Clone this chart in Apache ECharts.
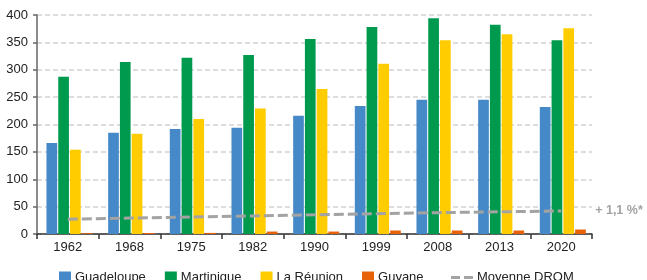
<!DOCTYPE html>
<html>
<head>
<meta charset="utf-8">
<script src="https://cdn.jsdelivr.net/npm/echarts@6/dist/echarts.min.js"></script>
<style>
html,body{margin:0;padding:0;background:#fff;}
#c{width:647px;height:280px;}
</style>
</head>
<body>
<div id="c"></div>
<script>
const years = ['1962','1968','1975','1982','1990','1999','2008','2013','2020'];
const guadeloupe = [166, 185, 192, 194, 216, 234, 245, 245, 232];
const martinique = [287, 314, 322, 327, 356, 378, 394, 382, 354];
const reunion = [154, 183, 210, 229, 265, 311, 354, 365, 376];
const guyane = [1.5, 1.8, 2, 4.5, 4.5, 6.4, 6.4, 6.4, 8.2];
const moyenne = [27, 29, 31, 33, 35, 37, 39, 40.5, 42];
const yTicks = {min: 0, max: 400, interval: 50};
const annotation = '+ 1,1 %*';

const chart = echarts.init(document.getElementById('c'), null, {renderer: 'canvas'});
const font = 'Liberation Sans, Arial, Helvetica, sans-serif';
const barW = 10.7;
chart.setOption({
  animation: false,
  textStyle: {fontFamily: font},
  grid: {left: 37, right: 55, top: 15, bottom: 46, containLabel: false},
  legend: [{
    left: 54, top: 266, itemWidth: 12, itemHeight: 12, itemGap: 19,
    icon: 'rect',
    textStyle: {fontSize: 13, color: '#222', fontFamily: font, padding: [0, 0, 0, -1]},
    data: ['Guadeloupe', 'Martinique', 'La Réunion', 'Guyane']
  }, {
    left: 446, top: 266, itemWidth: 22, itemHeight: 12,
    textStyle: {fontSize: 13, color: '#222', fontFamily: font, padding: [0, 0, 0, -1]},
    itemStyle: {color: '#A3A3A3', borderWidth: 0},
    lineStyle: {width: 0},
    data: [{name: 'Moyenne DROM', icon: 'path://M0,0h9v3h-9zM13,0h9v3h-9z'}]
  }],
  xAxis: {
    type: 'category', data: years, boundaryGap: true,
    axisLine: {lineStyle: {color: '#333', width: 1.5}},
    axisTick: {show: true, length: 5, lineStyle: {color: '#333', width: 1.5}},
    axisLabel: {fontSize: 13, color: '#222', margin: 7, fontFamily: font}
  },
  yAxis: {
    type: 'value', min: yTicks.min, max: yTicks.max, interval: yTicks.interval,
    axisLine: {show: true, lineStyle: {color: '#666', width: 1.5}},
    axisTick: {show: true, length: 4, lineStyle: {color: '#666', width: 1.5}},
    axisLabel: {fontSize: 13, color: '#222', margin: 9, fontFamily: font},
    splitLine: {lineStyle: {color: '#d2d2d2', width: 1.5, type: [5, 3]}}
  },
  series: [
    {name: '_pad', type: 'bar', barWidth: 3, barGap: '10%', data: years.map(() => '-'), silent: true},
    {name: 'Guadeloupe', type: 'bar', barWidth: barW, barGap: '10%', data: guadeloupe, itemStyle: {color: '#4589C8'}},
    {name: 'Martinique', type: 'bar', barWidth: barW, data: martinique, itemStyle: {color: '#009A4F'}},
    {name: 'La Réunion', type: 'bar', barWidth: barW, data: reunion, itemStyle: {color: '#FFCC00'}},
    {name: 'Guyane', type: 'bar', barWidth: barW, data: guyane, itemStyle: {color: '#E8620A'}},
    {name: 'Moyenne DROM', type: 'line', data: moyenne, symbol: 'none', z: 5,
     lineStyle: {color: '#A3A3A3', width: 3, type: [10, 4]},
     itemStyle: {color: '#A3A3A3'},
     endLabel: {show: true, formatter: annotation, distance: 34, color: '#A3A3A3',
       fontWeight: 'bold', fontSize: 12.5, fontFamily: font}}
  ]
});
</script>
</body>
</html>
